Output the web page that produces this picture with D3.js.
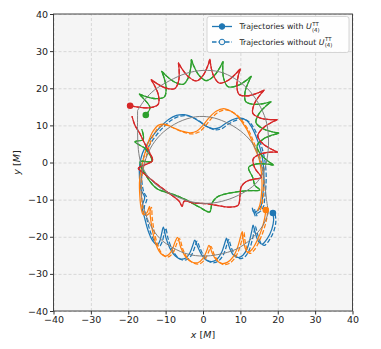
<!DOCTYPE html>
<html><head><meta charset="utf-8">
<script src="https://cdn.jsdelivr.net/npm/d3@7"></script>
<style>body{margin:0;background:#fff} text{font-family:"DejaVu Sans",sans-serif}</style>
</head><body><svg id="c" width="381" height="349"></svg>
<script>
const xTicks=[-40,-30,-20,-10,0,10,20,30,40];
const yTicks=[-40,-30,-20,-10,0,10,20,30,40];
const legendLabels=["Trajectories with ","Trajectories without "];

const blueTraj=[[18.7,-13.6],[18.9,-15.5],[18.4,-18],[17.2,-20.5],[15.8,-22],[14.8,-21.2],[14,-19],[13.4,-16.9],[13.1,-18.2],[12.6,-20.5],[11.8,-23.2],[10.7,-25],[9.5,-25.6],[8.2,-25],[7.2,-23.2],[6.5,-21],[6.3,-20.4],[5.8,-21.8],[5,-24.2],[3.8,-26],[2.4,-26.7],[0.9,-26.3],[-0.4,-24.8],[-1.5,-22.5],[-2.2,-20.9],[-2.7,-22.2],[-3.5,-24.3],[-4.6,-25.7],[-6,-26],[-7.4,-25.2],[-8.8,-23.2],[-9.9,-20.3],[-10.6,-17.4],[-11,-18.8],[-11.5,-21],[-12.2,-22.2],[-13.4,-21.2],[-14.6,-18.6],[-15.6,-15],[-16.3,-11.8],[-15.6,-9.4],[-16.5,-7.5],[-17,-4],[-16.9,-0.5],[-16.2,2.5],[-14.9,5],[-13.2,7.5],[-11.2,9.8],[-9.2,11.6],[-7.1,12.7],[-5,12.9],[-3,12.3],[-1.2,11.2],[0.8,9.8],[2.6,9.1],[4.4,9.4],[6,10.5],[7.8,11.5],[9.8,12],[11.7,11.3],[13,9.6],[14.2,7],[15.3,3.8],[16,0.5],[16.3,-3],[16.2,-6.5],[15.9,-9.5],[15.6,-11.5],[14.8,-12.8],[13.6,-13.4],[13.2,-12.3],[14,-14.5]];
const blueDash=[[19.3,-13.9],[19.5,-15.8],[19,-18.3],[17.8,-20.8],[16.4,-22.3],[15.4,-21.5],[14.6,-19.3],[14,-17.2],[13.7,-18.5],[13.2,-20.8],[12.4,-23.5],[11.3,-25.3],[10.1,-25.9],[8.8,-25.3],[7.8,-23.5],[7.1,-21.3],[6.9,-20.7],[6.4,-22.1],[5.6,-24.5],[4.4,-26.3],[3,-27],[1.5,-26.6],[0.2,-25.1],[-0.9,-22.8],[-1.6,-21.2],[-2.1,-22.5],[-2.9,-24.6],[-4,-26],[-5.4,-26.3],[-6.8,-25.5],[-8.2,-23.5],[-9.3,-20.6],[-10,-17.7],[-10.4,-19.1],[-10.9,-21.3],[-11.6,-22.5],[-12.8,-21.5],[-14,-18.9],[-15,-15.3],[-15.7,-12.1],[-15,-9.7],[-15.9,-7.8],[-16.4,-4.3],[-16.3,-0.8],[-15.6,2.2],[-14.3,4.7],[-12.6,7.2],[-10.6,9.5],[-8.6,11.3],[-6.5,12.4],[-4.4,12.6],[-2.4,12],[-0.6,10.9],[1.4,9.5],[3.2,8.8],[5,9.1],[6.6,10.2],[8.4,11.2],[10.4,11.7],[12.3,11],[13.6,9.3],[14.8,6.7],[15.9,3.5],[16.6,0.2],[16.9,-3.3],[16.8,-6.8],[16.5,-9.8],[16.2,-11.8],[15.4,-13.1],[14.2,-13.7],[13.8,-12.6],[14.6,-14.8]];

const orangeTraj=[[16.8,-12.8],[16.5,-15],[15.7,-18],[14.5,-21],[13.2,-23.3],[12,-24.2],[11.2,-22.8],[10.7,-20.5],[10.5,-18.6],[10,-20.2],[9.2,-23],[8,-25.5],[6.5,-26.9],[5,-27.2],[3.6,-26.3],[2.5,-24.5],[1.6,-22.3],[1,-23.8],[0,-25.8],[-1.4,-27],[-3,-26.8],[-4.6,-25.5],[-5.9,-23],[-6.8,-20.2],[-7.5,-21.5],[-8.5,-24],[-9.9,-25.2],[-11.3,-24.5],[-12.5,-22.3],[-13.5,-18.5],[-14.1,-14.5],[-14.3,-11.8],[-15,-13.5],[-16,-14],[-16.6,-12],[-16.9,-9],[-17,-5.5],[-16.6,-2],[-15.8,1.5],[-14.8,5],[-13.6,8],[-12,10],[-10,10.3],[-7.8,9.3],[-5.5,8.4],[-3.4,8],[-1.6,8.5],[0,10],[1.6,12],[3.5,13.8],[5.5,14.5],[7.5,13.8],[9.2,12.5],[10.5,10.8],[11.8,8.8],[12.8,6.5],[13.8,4],[15,1],[15.6,-2.5],[15.8,-6],[15.6,-9],[15.2,-11.5],[14.6,-13]];
const orangeDash=[[17.3,-13.1],[17,-15.3],[16.2,-18.3],[15,-21.3],[13.7,-23.6],[12.5,-24.5],[11.7,-23.1],[11.2,-20.8],[11,-18.9],[10.5,-20.5],[9.7,-23.3],[8.5,-25.8],[7,-27.2],[5.5,-27.5],[4.1,-26.6],[3,-24.8],[2.1,-22.6],[1.5,-24.1],[0.5,-26.1],[-0.9,-27.3],[-2.5,-27.1],[-4.1,-25.8],[-5.4,-23.3],[-6.3,-20.5],[-7,-21.8],[-8,-24.3],[-9.4,-25.5],[-10.8,-24.8],[-12,-22.6],[-13,-18.8],[-13.6,-14.8],[-13.8,-12.1],[-14.5,-13.8],[-15.5,-14.3],[-16.1,-12.3],[-16.4,-9.3],[-16.5,-5.8],[-16.1,-2.3],[-15.3,1.2],[-14.3,4.7],[-13.1,7.7],[-11.5,9.7],[-9.5,10],[-7.3,9],[-5,8.1],[-2.9,7.7],[-1.1,8.2],[0.5,9.7],[2.1,11.7],[4,13.5],[6,14.2],[8,13.5],[9.7,12.2],[11,10.5],[12.3,8.5],[13.3,6.2],[14.3,3.7],[15.5,0.7],[16.1,-2.8],[16.3,-6.3],[16.1,-9.3],[15.7,-11.8],[15.1,-13.3]];

const greenTraj=[[-15.3,12.8],[-14.19,14.79],[-16.03,17.34],
[-17.06,18.41],[-15.69,17.87],[-12.67,17.18],[-10.34,17.67],[-9.86,20.06],[-10.53,23.17],
[-11.05,24.58],[-10.01,23.51],[-7.53,21.62],[-5.21,21.08],[-3.83,23.07],[-3.2,26.18],
[-3.11,27.68],[-2.59,26.28],[-1.08,23.5],[0.83,22.05],[2.88,23.27],[4.68,25.85],
[5.36,27.19],[5.28,25.69],[5.56,22.52],[6.72,20.39],[9.09,20.65],[11.76,22.25],
[12.91,23.18],[12.24,21.84],[11.23,18.84],[11.45,16.4],[13.71,15.65],[16.78,15.99],
[18.2,16.36],[17.06,15.41],[14.95,13.09],[14.18,10.78],[15.94,9.14],[18.89,8.16],
[20.33,7.91],[18.91,7.52],[16.07,6.28],[14.45,4.5],[15.41,2.26],[17.7,0.14],
[18.92,-0.7],[17.47,-0.46],[14.38,-0.39],[12.2,-1.35],
[13.3,-4],[13.9,-6.2],[15.2,-7.4],[12,-7.6],[9,-7.9],[5.5,-8.6],[3.6,-9.4],[2.4,-11],[1.8,-13.3],[-1,-12],[-4.4,-10.1],[-8,-8.6],[-10.6,-7.8],[-12.4,-7],[-14.8,-4.2],[-16.8,0.2],[-13.7,0.3],[-15.2,3.5],[-18.2,5.6],[-16,6.2],[-16.4,9]];

const redTraj=[[-19.5,15.3],[-17.29,14.9],[-14.2,14.75],[-12,15.65],[-11.92,18.1],[-13.11,21.03],
[-13.86,22.32],[-12.66,21.46],[-9.89,20.04],[-7.52,19.93],[-6.49,22.13],[-6.41,25.31],
[-6.57,26.81],[-5.82,25.52],[-3.86,23.06],[-1.73,21.96],[0.08,23.54],[1.42,26.41],
[1.86,27.84],[2.04,26.35],[2.85,23.28],[4.35,21.39],[6.63,22.07],[8.99,24.12],
[9.97,25.25],[9.54,23.81],[9.06,20.67],[9.68,18.31],[12.03,17.97],[15,18.86],
[16.34,19.48],[15.37,18.35],[13.69,15.68],[13.32,13.26],[15.34,11.97],[18.4,11.53],
[19.87,11.54],[18.53,10.91],[15.94,9.18],[14.65,7.13],[15.97,5.1],[18.6,3.42],
[19.94,2.81],[18.47,2.79],[15.42,2.3],[13.43,0.97],[13.83,-1.44],[15.56,-4.07],
[14,-4.4],[11.6,-5.1],[10.2,-6.6],[9.9,-9],[9.4,-11.5],[7,-12],[4,-11.6],[1,-11.1],[-2.5,-10.9],[-5,-10.4],[-5.6,-11.8],[-6.4,-10.4],[-9.5,-8],[-13,-5.3],[-16,-2.8],[-17.3,-1.6],[-15.5,-0.6],[-13.5,0.5],[-14.5,3],[-15.8,5.5],[-17,8],[-18.2,10],[-19,12.5]];

const grayA=[[17.5,-13.5],[16,-17],[13,-20.5],[9,-23.3],[4,-24.8],[0,-25.2],[-4,-24.7],[-8,-23],[-11.5,-20.5],[-14,-17],[-15.8,-12.5],[-16.6,-7.5],[-16.4,-3],[-15.3,1],[-13.5,4.8],[-10.6,8.2],[-6.5,10.9],[-2,12.3],[2,12.2],[6,10.9],[10,8.5],[13,5.5],[15,1.5],[16,-2.5],[16.6,-6.5],[17,-10],[17.5,-13.5]];
const grayB=[[-17.5,14],[-15.5,17],[-13,19.5],[-9,22],[-4.5,24],[0,24.8],[4.5,24.4],[8.5,22.6],[12,19.8],[14.8,16],[16.8,11.5],[17.5,7],[17.3,2],[16.2,-2.5],[14,-5.8],[10.5,-8.3],[6,-10.2],[1.5,-11],[-3,-10.6],[-7.5,-9],[-11.5,-6.8],[-14.5,-4],[-16.5,-0.5],[-17.3,3.5],[-17.5,8],[-17.5,14]];

const series=[
 {color:"#1f77b4",data:blueTraj,dash:blueDash},
 {color:"#ff7f0e",data:orangeTraj,dash:orangeDash},
 {color:"#2ca02c",data:greenTraj,dash:greenTraj},
 {color:"#d62728",data:redTraj,dash:redTraj}
];

const L=53.5,R=352.5,T=14,B=311;
const svg=d3.select("#c");
const x=d3.scaleLinear().domain([-40,40]).range([L,R]);
const y=d3.scaleLinear().domain([-40,40]).range([B,T]);
const fmt=d=>d<0?"\u2212"+Math.abs(d):String(d);

svg.append("rect").attr("x",L).attr("y",T).attr("width",R-L).attr("height",B-T).attr("fill","#f5f5f5");
svg.append("defs").append("clipPath").attr("id","clip").append("rect").attr("x",L).attr("y",T).attr("width",R-L).attr("height",B-T);

const gx=svg.append("g").attr("transform",`translate(0,${B})`).call(d3.axisBottom(x).tickValues(xTicks).tickSize(-(B-T)).tickFormat(""));
const gy=svg.append("g").attr("transform",`translate(${L},0)`).call(d3.axisLeft(y).tickValues(yTicks).tickSize(-(R-L)).tickFormat(""));
[gx,gy].forEach(g=>{g.select(".domain").remove();g.selectAll("line").attr("stroke","#cfcfcf").attr("stroke-width",0.8).attr("stroke-dasharray","3,2");});

const line=d3.line().x(d=>x(d[0])).y(d=>y(d[1])).curve(d3.curveCatmullRom.alpha(0.5));
const plot=svg.append("g").attr("clip-path","url(#clip)");

series.forEach(s=>{
  plot.append("path").attr("d",line(s.data)).attr("fill","none").attr("stroke",s.color).attr("stroke-width",1.25).attr("stroke-linejoin","round");
  plot.append("path").attr("d",line(s.dash)).attr("fill","none").attr("stroke",s.color).attr("stroke-width",1.25).attr("stroke-dasharray","4.5,2");
});
[grayA,grayB].forEach(g=>{
  plot.append("path").attr("d",line(g)).attr("fill","none").attr("stroke","#808080").attr("stroke-width",1);
});
series.forEach(s=>{
  plot.append("circle").attr("cx",x(s.data[0][0])).attr("cy",y(s.data[0][1])).attr("r",3.3).attr("fill",s.color);
});

const ax=svg.append("g").attr("transform",`translate(0,${B})`).call(d3.axisBottom(x).tickValues(xTicks).tickSize(3.5).tickPadding(2).tickFormat(fmt));
const ay=svg.append("g").attr("transform",`translate(${L},0)`).call(d3.axisLeft(y).tickValues(yTicks).tickSize(3.5).tickPadding(2).tickFormat(fmt));
[ax,ay].forEach(g=>{g.select(".domain").remove();g.selectAll("line").attr("stroke","#333");g.selectAll("text").attr("font-size",9.5).attr("fill","#222").attr("font-family","DejaVu Sans");});
svg.append("rect").attr("x",L).attr("y",T).attr("width",R-L).attr("height",B-T).attr("fill","none").attr("stroke","#333").attr("stroke-width",0.9);

const xl=svg.append("text").attr("x",(L+R)/2).attr("y",338).attr("text-anchor","middle").attr("font-size",9.5).attr("fill","#222");
xl.append("tspan").attr("font-style","italic").text("x");
xl.append("tspan").text(" [");
xl.append("tspan").attr("font-style","italic").text("M");
xl.append("tspan").text("]");
const yl=svg.append("text").attr("transform",`translate(20,${(T+B)/2}) rotate(-90)`).attr("text-anchor","middle").attr("font-size",9.5).attr("fill","#222");
yl.append("tspan").attr("font-style","italic").text("y");
yl.append("tspan").text(" [");
yl.append("tspan").attr("font-style","italic").text("M");
yl.append("tspan").text("]");

const lg=svg.append("g");
lg.append("rect").attr("x",207).attr("y",16.5).attr("width",142).attr("height",36).attr("rx",2.5).attr("fill","#fff").attr("fill-opacity",0.85).attr("stroke","#cccccc").attr("stroke-width",0.8);
legendLabels.forEach((lab,i)=>{
  const yy=26.5+i*15.5;
  const c="#1f77b4";
  const ln=lg.append("line").attr("x1",212).attr("x2",232).attr("y1",yy).attr("y2",yy).attr("stroke",c).attr("stroke-width",1.3);
  if(i===1) ln.attr("stroke-dasharray","4.5,2");
  lg.append("circle").attr("cx",222).attr("cy",yy).attr("r",2.8).attr("fill",i===0?c:"#f5f5f5").attr("stroke",c).attr("stroke-width",1);
  const t=lg.append("text").attr("x",239.5).attr("y",yy+2.8).attr("font-size",7.8).attr("fill","#222");
  t.append("tspan").text(lab);
  t.append("tspan").attr("font-style","italic").text("U");
  const w=t.node().getComputedTextLength();
  lg.append("text").attr("x",239.5+w+0.6).attr("y",yy-1).attr("font-size",5.4).attr("fill","#222").text("TT");
  lg.append("text").attr("x",239.5+w+0.3).attr("y",yy+5.2).attr("font-size",5.4).attr("fill","#222").text("(4)");
});
</script></body></html>
